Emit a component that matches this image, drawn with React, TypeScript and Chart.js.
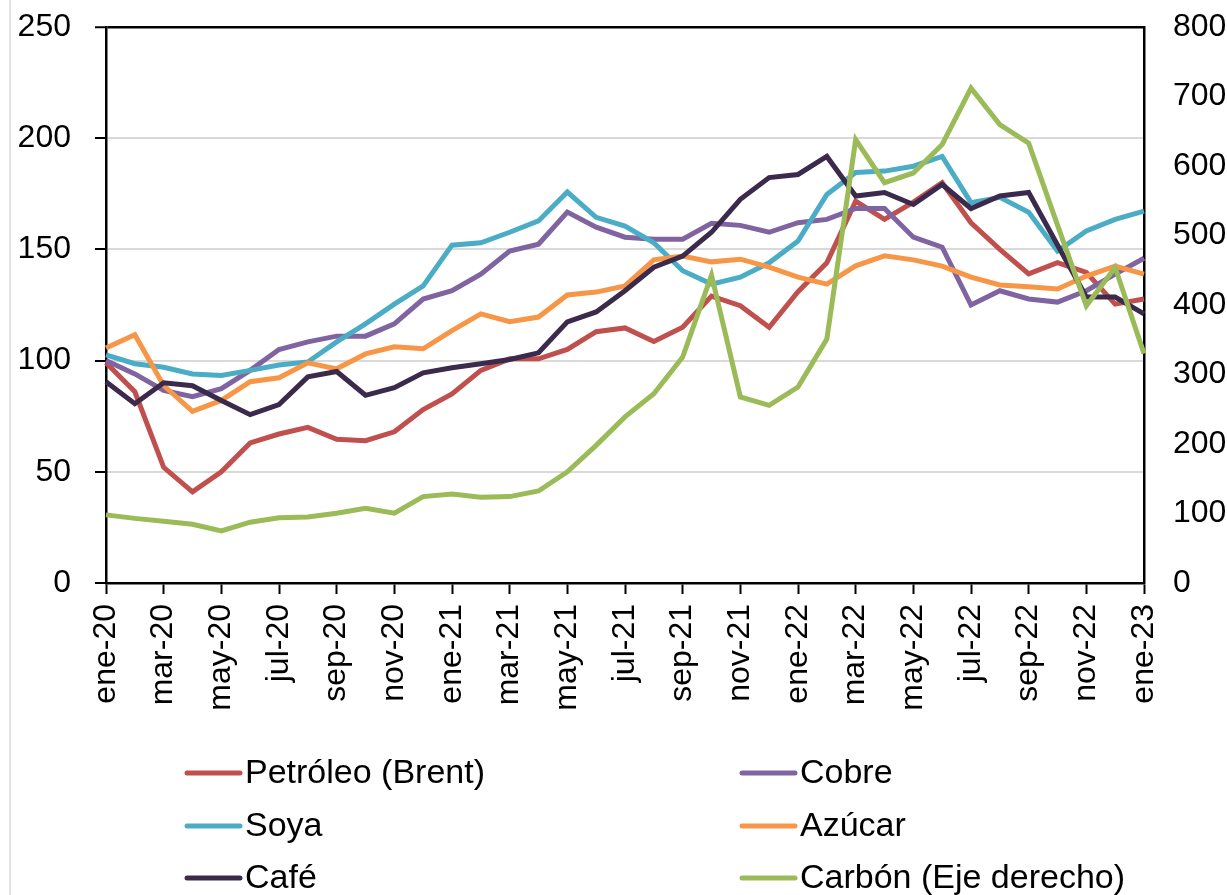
import React, { useEffect, useRef } from "react";
import { Chart, registerables } from "chart.js";

Chart.register(...registerables);

const months = ["ene", "feb", "mar", "abr", "may", "jun", "jul", "ago", "sep", "oct", "nov", "dic"];
const categories: string[] = [];
["20", "21", "22"].forEach((y) => months.forEach((m) => categories.push(`${m}-${y}`)));
categories.push("ene-23");

const petroleo = [99, 86, 52, 41, 50, 63, 67, 70, 64.6, 64, 68, 78, 85, 95.6, 100.8, 100.8, 105, 113, 114.7, 108.6, 115, 129, 124.7, 115, 131, 144, 171.7, 163.5, 171.3, 180, 162, 150, 139, 144, 139.7, 125.4, 127.7];
const cobre = [100, 94, 86.6, 83.8, 87.4, 95.6, 105, 108.4, 111, 111, 116.5, 127.7, 131.4, 138.9, 149.3, 152.3, 166.8, 160, 155.5, 154.6, 154.6, 161.7, 160.8, 157.7, 162, 163.5, 168.4, 168.4, 155.5, 151, 125, 131.4, 127.7, 126.3, 131.4, 138.9, 146];
const soya = [102.6, 98.6, 97, 94, 93.3, 95.6, 98, 99.4, 108.4, 116.5, 125.4, 133.6, 151.9, 153, 157.7, 162.8, 175.8, 164.4, 160.5, 153, 140.4, 134.4, 137.5, 144, 153.8, 174.7, 184.6, 185.2, 187.4, 191.8, 171, 173.4, 166.7, 149.3, 158.3, 163.5, 167.2];
const azucar = [105.7, 111.6, 88.8, 77.2, 82.1, 90.5, 92.3, 99, 96.3, 103, 106.2, 105.3, 113.5, 121, 117.5, 119.6, 129.5, 130.8, 133.6, 145.3, 147, 144.4, 145.6, 142, 137.5, 134.4, 142.6, 147.1, 145.3, 142.5, 137.5, 134, 133.2, 132.2, 138, 142.5, 138.9];
const cafe = [90.5, 80.6, 90, 88.7, 82.1, 75.7, 80.2, 92.7, 95.1, 84.4, 87.8, 94.5, 96.8, 98.6, 100.5, 103.5, 117.4, 121.9, 131.4, 142, 147, 157.7, 172.5, 182.3, 183.7, 191.8, 174, 175.6, 170.2, 179.2, 168.4, 174, 175.6, 152, 128.6, 128.6, 121];
const carbon = [98, 93, 89, 84.6, 75, 87.5, 94, 95, 100.4, 107.5, 100.4, 124.3, 128, 123.3, 124.3, 132.4, 160, 198, 239, 272.4, 325, 443, 267.7, 255.7, 282, 351, 638, 576, 590, 631, 712, 659.5, 633, 515, 399, 454, 330];

const leftTicks = [0, 50, 100, 150, 200, 250];
const rightTicks = [0, 100, 200, 300, 400, 500, 600, 700, 800];

const FONT = "'Liberation Sans', 'DejaVu Sans', sans-serif";

const legendPlugin = {
  id: "gridLegend",
  beforeDraw(chart: any) {
    const c = chart.ctx;
    c.save();
    c.strokeStyle = "#d9d9d9";
    c.lineWidth = 1.5;
    c.beginPath();
    c.moveTo(10, 0);
    c.lineTo(10, chart.height);
    c.stroke();
    c.restore();
  },
  afterDraw(chart: any) {
    const c = chart.ctx;
    const cols = [187, 742];
    const rows = [773, 826, 878];
    c.save();
    c.font = `34px ${FONT}`;
    c.textBaseline = "middle";
    c.textAlign = "left";
    chart.data.datasets.forEach((ds: any, i: number) => {
      const x = cols[i % 2];
      const y = rows[Math.floor(i / 2)];
      c.strokeStyle = ds.borderColor;
      c.lineWidth = 5;
      c.lineCap = "round";
      c.beginPath();
      c.moveTo(x, y);
      c.lineTo(x + 53, y);
      c.stroke();
      c.fillStyle = "#000";
      c.fillText(ds.label, x + 58, y + 1);
    });
    c.restore();
  },
};

const zeroPad = (s: any) => {
  s.paddingTop = 0;
  s.paddingBottom = 0;
  s.paddingLeft = 0;
  s.paddingRight = 0;
};

export default function App() {
  const ref = useRef<HTMLCanvasElement>(null);
  useEffect(() => {
    if (!ref.current) return;
    const mk = (label: string, data: number[], color: string, order: number, axis = "y") => ({
      label,
      data,
      borderColor: color,
      backgroundColor: color,
      borderWidth: 5,
      pointRadius: 0,
      tension: 0,
      yAxisID: axis,
      order,
    });
    const chart = new Chart(ref.current, {
      type: "line",
      data: {
        labels: categories,
        datasets: [
          mk("Petróleo (Brent)", petroleo, "#C0504D", 5),
          mk("Cobre", cobre, "#8064A2", 4),
          mk("Soya", soya, "#4BACC6", 3),
          mk("Azúcar", azucar, "#F79646", 2),
          mk("Café", cafe, "#3B2A4C", 1),
          mk("Carbón (Eje derecho)", carbon, "#9BBB59", 0, "y2"),
        ],
      },
      options: {
        animation: false,
        responsive: false,
        layout: { padding: { top: 27, left: 0, right: 0, bottom: 0 } },
        plugins: { legend: { display: false }, tooltip: { enabled: false } },
        scales: {
          x: {
            offset: false,
            grid: {
              drawOnChartArea: false,
              drawTicks: true,
              tickLength: 11,
              tickWidth: 2,
              tickColor: (ctx: any) => (ctx.index % 2 === 0 ? "#000" : "rgba(0,0,0,0)"),
            },
            border: { display: true, color: "#000", width: 2.5 },
            ticks: {
              autoSkip: false,
              maxRotation: 90,
              minRotation: 90,
              padding: 10,
              color: "#000",
              font: { family: FONT, size: 32 },
              callback: (_v: any, i: number) => (i % 2 === 0 ? categories[i] : ""),
            },
            afterFit: (s: any) => {
              s.height = 312;
              zeroPad(s);
            },
          },
          y: {
            position: "left",
            min: leftTicks[0],
            max: leftTicks[leftTicks.length - 1],
            afterBuildTicks: (s: any) => {
              s.ticks = leftTicks.map((v) => ({ value: v }));
            },
            grid: {
              color: (ctx: any) => (ctx.tick && ctx.tick.value === 250 ? "#000" : "#d9d9d9"),
              lineWidth: (ctx: any) => (ctx.tick && ctx.tick.value === 250 ? 2.5 : 2),
              tickColor: "#000",
              tickLength: 11,
              tickWidth: 2,
            },
            border: { display: true, color: "#000", width: 2.5 },
            ticks: {
              padding: 24,
              color: "#000",
              font: { family: FONT, size: 32 },
            },
            afterFit: (s: any) => {
              s.width = 106;
              zeroPad(s);
            },
          },
          y2: {
            position: "right",
            min: rightTicks[0],
            max: rightTicks[rightTicks.length - 1],
            afterBuildTicks: (s: any) => {
              s.ticks = rightTicks.map((v) => ({ value: v }));
            },
            grid: { drawOnChartArea: false, drawTicks: false },
            border: { display: true, color: "#000", width: 2.5 },
            ticks: {
              padding: 29,
              color: "#000",
              font: { family: FONT, size: 32 },
            },
            afterFit: (s: any) => {
              s.width = 83;
              zeroPad(s);
            },
          },
        },
      },
      plugins: [legendPlugin],
    } as any);
    return () => chart.destroy();
  }, []);
  return (
    <div style={{ position: "fixed", left: 0, top: 0, width: 1227, height: 895, background: "#fff" }}>
      <canvas ref={ref} width={1227} height={895} style={{ display: "block" }} />
    </div>
  );
}
